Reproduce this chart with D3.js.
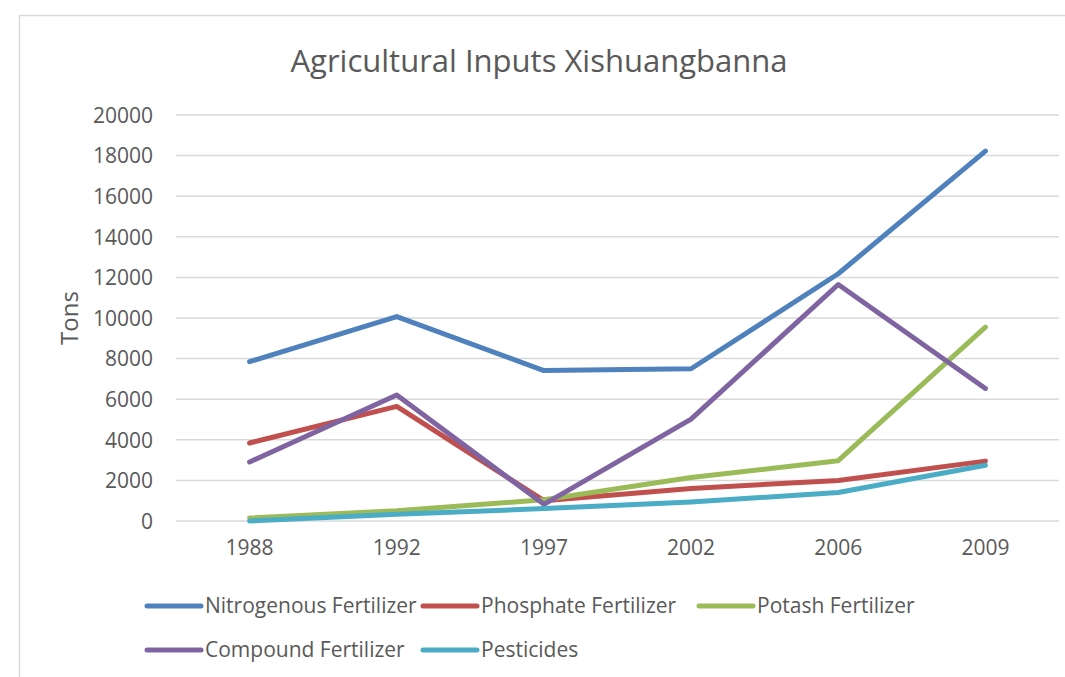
<!DOCTYPE html>
<html>
<head>
<meta charset="utf-8">
<script src="https://cdn.jsdelivr.net/npm/d3@7/dist/d3.min.js"></script>
<style>
  body { margin: 0; background: #fff; }
  text { font-family: "Open Sans", sans-serif; fill: #595959; }
  .grid line { stroke: #d9d9d9; stroke-width: 1.5px; }
</style>
</head>
<body>
<svg id="chart" width="1065" height="677"></svg>
<script>
// values (tons)
var years = ["1988", "1992", "1997", "2002", "2006", "2009"];
var nitrogenous = [7850, 10070, 7410, 7500, 12180, 18220];
var phosphate = [3840, 5650, 1000, 1600, 2000, 2950];
var potash = [150, 500, 1050, 2140, 2970, 9550];
var compound = [2910, 6210, 820, 5020, 11650, 6530];
var pesticides = [0, 330, 610, 940, 1400, 2750];
var yTicks = [0, 2000, 4000, 6000, 8000, 10000, 12000, 14000, 16000, 18000, 20000];

var seriesNames = ["Nitrogenous Fertilizer", "Phosphate Fertilizer", "Potash Fertilizer", "Compound Fertilizer", "Pesticides"];
var seriesColors = ["#4f81bd", "#c0504d", "#9bbb59", "#8064a2", "#4bacc6"];
var series = [nitrogenous, phosphate, potash, compound, pesticides];

var svg = d3.select("#chart");

// outer chart border (right and bottom run off the picture)
svg.append("rect")
  .attr("x", 19.5).attr("y", 15.5)
  .attr("width", 1100).attr("height", 700)
  .attr("fill", "none")
  .attr("stroke", "#d9d9d9")
  .attr("stroke-width", 1.5);

var x = d3.scaleBand().domain(years).range([176, 1059]);
var y = d3.scaleLinear().domain([0, 20000]).range([521, 115]);

// gridlines
svg.append("g").attr("class", "grid")
  .selectAll("line")
  .data(yTicks)
  .enter().append("line")
    .attr("x1", 176).attr("x2", 1059)
    .attr("y1", function(d) { return y(d); })
    .attr("y2", function(d) { return y(d); });

// y axis labels
var yAxis = d3.axisLeft(y).tickValues(yTicks).tickFormat(d3.format("d")).tickSize(0).tickPadding(0);
var yg = svg.append("g").attr("transform", "translate(153,0)").call(yAxis);
yg.select(".domain").remove();
yg.selectAll("text").style("font-size", "21px").attr("dy", "0.35em");

// x axis labels
var xAxis = d3.axisBottom(x).tickSize(0).tickPadding(0);
var xg = svg.append("g").attr("transform", "translate(0,538)").call(xAxis);
xg.select(".domain").remove();
xg.selectAll("text").style("font-size", "21px").attr("dy", "0.8em");

// title
svg.append("text")
  .attr("x", 539).attr("y", 72)
  .attr("text-anchor", "middle")
  .style("font-size", "31px")
  .text("Agricultural Inputs Xishuangbanna");

// y axis title
svg.append("text")
  .attr("transform", "translate(78,318) rotate(-90)")
  .attr("text-anchor", "middle")
  .style("font-size", "24px")
  .text("Tons");

// lines
var line = d3.line()
  .x(function(d, i) { return x(years[i]) + x.bandwidth() / 2; })
  .y(function(d) { return y(d); });

svg.append("g")
  .selectAll("path")
  .data(series)
  .enter().append("path")
    .attr("d", line)
    .attr("fill", "none")
    .attr("stroke", function(d, i) { return seriesColors[i]; })
    .attr("stroke-width", 5)
    .attr("stroke-linejoin", "round")
    .attr("stroke-linecap", "round");

// legend, three columns per row
var legend = svg.append("g")
  .selectAll("g")
  .data(seriesNames)
  .enter().append("g")
    .attr("transform", function(d, i) {
      return "translate(" + (147 + (i % 3) * 276) + "," + (606 + Math.floor(i / 3) * 44) + ")";
    });

legend.append("line")
  .attr("x1", 0).attr("x2", 54)
  .attr("stroke", function(d, i) { return seriesColors[i]; })
  .attr("stroke-width", 5)
  .attr("stroke-linecap", "round");

legend.append("text")
  .attr("x", 58).attr("dy", "0.35em")
  .style("font-size", "21px")
  .text(function(d) { return d; });
</script>
</body>
</html>
